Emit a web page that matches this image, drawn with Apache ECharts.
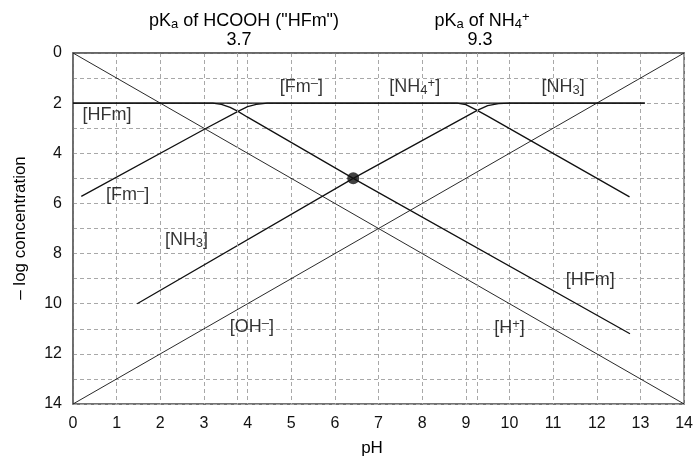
<!DOCTYPE html>
<html><head><meta charset="utf-8">
<script src="https://cdn.jsdelivr.net/npm/echarts@6/dist/echarts.min.js"></script>
<style>html,body{margin:0;padding:0;background:#fff}#c{width:696px;height:458px}</style>
</head><body><div id="c"></div>
<script>
// ---- data (pH, -log concentration) ----
const hPlus   = [[0, 0], [14, 14]];
const ohMinus = [[0, 14], [14, 0]];
const hfm     = [[0, 2], [3.2, 2.0], [3.4, 2.05], [3.6, 2.17], [3.78, 2.33], [4.0, 2.56], [6.42, 5.0], [12.76, 11.2]];
const fmMinus = [[0.19, 5.72], [3.02, 3.03], [3.78, 2.33], [4.0, 2.14], [4.2, 2.05], [4.45, 2.0], [13.1, 2.0]];
const nh4     = [[0, 2], [8.8, 2.0], [9.0, 2.06], [9.26, 2.29], [9.5, 2.52], [12.75, 5.74]];
const nh3     = [[1.47, 10.0], [6.42, 5.0], [9.26, 2.29], [9.5, 2.1], [9.75, 2.02], [10.0, 2.0], [13.1, 2.0]];
const dotPoint = [[6.42, 5.0]];
const pKaLines = [3.77, 9.26];
const xTickValues = [0,1,2,3,4,5,6,7,8,9,10,11,12,13,14];
const yTickLabels = [0,2,4,6,8,10,12,14];
const speciesLabels = ['[HFm]', '[Fm{sup|–}]', '[NH{sub|4}{sup|+}]', '[NH{sub|3}]', '[Fm{sup|–}]', '[NH{sub|3}]', '[OH{sup|–}]', '[H{sup|+}]', '[HFm]'];
const speciesLabelAt = [[0.78, 2.47], [5.23, 1.36], [7.83, 1.36], [11.23, 1.34], [1.25, 5.65], [2.6, 7.45], [4.1, 10.92], [10.0, 10.96], [11.85, 9.06]];

const FONT = '"Liberation Sans", Arial, Helvetica, sans-serif';
const INK = '#000';
const gridDash = { color: '#a8a8a8', type: [4, 3], width: 1 };
const rich = {
  sub: { fontSize: 13, fontFamily: FONT, color: INK, verticalAlign: 'bottom', lineHeight: 8 },
  sup: { fontSize: 13, fontFamily: FONT, color: INK, verticalAlign: 'top', lineHeight: 8 }
};

const chart = echarts.init(document.getElementById('c'), null, { renderer: 'canvas' });

function lineSeries(data, w) {
  return { type: 'line', data: data, symbol: 'none', silent: true, animation: false,
    lineStyle: { color: '#111', width: w }, z: 3 };
}

const option = {
  animation: false,
  backgroundColor: '#fff',
  grid: { left: 73, top: 53, width: 614, height: 351, show: true, borderColor: '#444', borderWidth: 1.3, backgroundColor: 'transparent' },
  xAxis: {
    type: 'value', min: 0, max: 14, interval: 1,
    axisLine: { show: true, lineStyle: { color: '#666', width: 1.5 } },
    axisTick: { show: false },
    axisLabel: { color: '#111', fontSize: 16, fontFamily: FONT, margin: 12,
      formatter: v => xTickValues.indexOf(v) >= 0 ? String(v) : '' },
    splitLine: { show: true, lineStyle: gridDash }
  },
  yAxis: {
    type: 'value', min: 0, max: 14, interval: 1, inverse: true,
    axisLine: { show: true, lineStyle: { color: '#666', width: 1.5 } },
    axisTick: { show: false },
    axisLabel: { color: '#111', fontSize: 16, fontFamily: FONT, margin: 11,
      formatter: v => yTickLabels.indexOf(v) >= 0 ? String(v) : '' },
    splitLine: { show: true, lineStyle: gridDash }
  },
  series: [
    Object.assign(lineSeries(hPlus, 0.9), {
      markLine: { silent: true, symbol: 'none', animation: false, label: { show: false },
        lineStyle: gridDash, data: pKaLines.map(v => ({ xAxis: v })) }
    }),
    lineSeries(ohMinus, 0.9),
    lineSeries(hfm, 1.3),
    lineSeries(fmMinus, 1.3),
    lineSeries(nh4, 1.3),
    lineSeries(nh3, 1.3),
    { type: 'scatter', data: dotPoint, symbol: 'circle', symbolSize: 12, itemStyle: { color: '#111' }, z: 5, silent: true },
    { type: 'scatter', silent: true, symbolSize: 0, z: 6,
      data: speciesLabelAt.map((p, i) => ({ value: p, name: speciesLabels[i] })),
      label: { show: true, position: 'inside', formatter: p => p.name, color: INK, textBorderWidth: 0,
        fontSize: 18, fontFamily: FONT, lineHeight: 20, rich: rich } }
  ],
  graphic: [
    { type: 'text', x: 244, y: 21, style: { text: 'pK{sub|a} of HCOOH ("HFm")', fill: INK, font: '18px ' + FONT,
        align: 'center', verticalAlign: 'middle', lineHeight: 20,
        rich: { sub: { fontSize: 13, fontFamily: FONT, fill: INK, verticalAlign: 'bottom', lineHeight: 8 } } } },
    { type: 'text', x: 239, y: 40, style: { text: '3.7', fill: INK, font: '18px ' + FONT, align: 'center', verticalAlign: 'middle' } },
    { type: 'text', x: 482, y: 21, style: { text: 'pK{sub|a} of NH{sub|4}{sup|+}', fill: INK, font: '18px ' + FONT,
        align: 'center', verticalAlign: 'middle', lineHeight: 20,
        rich: { sub: { fontSize: 13, fontFamily: FONT, fill: INK, verticalAlign: 'bottom', lineHeight: 8 },
                sup: { fontSize: 13, fontFamily: FONT, fill: INK, verticalAlign: 'top', lineHeight: 8 } } } },
    { type: 'text', x: 480, y: 40, style: { text: '9.3', fill: INK, font: '18px ' + FONT, align: 'center', verticalAlign: 'middle' } },
    { type: 'text', x: 372, y: 448, style: { text: 'pH', fill: INK, font: '17px ' + FONT, align: 'center', verticalAlign: 'middle' } },
    { type: 'text', x: 20, y: 228, rotation: Math.PI / 2,
      style: { text: '– log concentration', fill: INK, font: '17px ' + FONT, align: 'center', verticalAlign: 'middle' } }
  ]
};
chart.setOption(option);
</script>
</body></html>
